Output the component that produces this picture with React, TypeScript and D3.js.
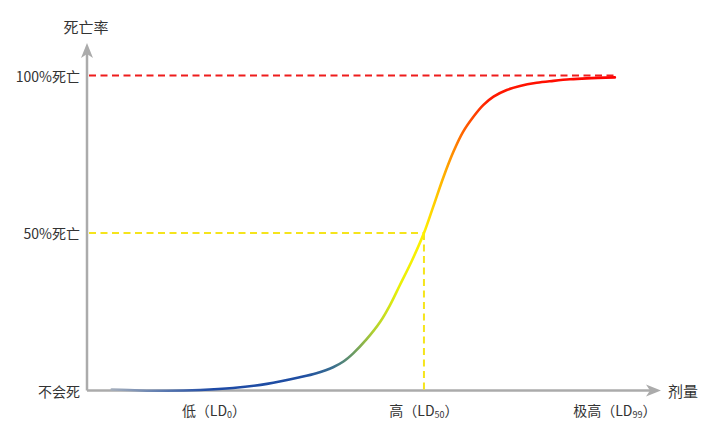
import React from "react";
import * as d3 from "d3";

const doses = [4.3, 9.2, 13.9, 19.7, 25.4, 31.3, 37.0, 39.9, 42.8, 44.6, 46.3, 48.6, 51.0, 52.7, 54.4, 56.5, 58.6, 60.2, 62.0, 63.7, 65.4, 67.2, 68.9, 70.7, 73.0, 75.3, 78.2, 81.1, 84.0, 86.9, 91.8];
const mortality = [0.3, 0.0, -0.1, 0.15, 0.8, 2.1, 4.2, 5.5, 7.4, 9.2, 11.8, 16.2, 21.8, 27.1, 33.4, 41.2, 50, 58.3, 67.8, 75.7, 82.1, 86.9, 90.6, 93.3, 95.4, 96.7, 97.7, 98.3, 98.8, 99.1, 99.4];

const yTickValues = [0, 50, 100];
const yTickLabels = ["不会死", "50%死亡", "100%死亡"];
const xTickValues = [20, 58.6, 91.8];
const xTickMain = ["低（LD", "高（LD", "极高（LD"];
const xTickSub = ["0", "50", "99"];
const ld50 = 58.6;
const refEnd = 92;

const gradStops = [
  { o: 0.0, c: "#a3adbb" },
  { o: 0.1, c: "#5d7bb0" },
  { o: 0.2, c: "#1e4aa6" },
  { o: 0.38, c: "#1f4ea2" },
  { o: 0.44, c: "#3a6f8f" },
  { o: 0.48, c: "#6a9a62" },
  { o: 0.52, c: "#b0d030" },
  { o: 0.57, c: "#e8f008" },
  { o: 0.62, c: "#fff000" },
  { o: 0.66, c: "#ffb000" },
  { o: 0.7, c: "#ff6000" },
  { o: 0.75, c: "#ff1a00" },
  { o: 1.0, c: "#ff0000" },
];

export default function App() {
  const W = 720, H = 442;
  const x = d3.scaleLinear().domain([0, 100]).range([87, 662]);
  const y = d3.scaleLinear().domain([0, 100]).range([390.5, 75.5]);
  const pts: [number, number][] = doses.map((d, i) => [d, mortality[i]]);
  const line = d3
    .line<[number, number]>()
    .x((d) => x(d[0]))
    .y((d) => y(d[1]))
    .curve(d3.curveCatmullRom.alpha(0.5));
  const font = "'Noto Sans CJK SC', 'Noto Sans', sans-serif";
  const axisColor = "#ababab";
  const textColor = "#333";
  const x0 = x(0), yb = y(0);
  const gx0 = x(doses[0]), gx1 = x(doses[doses.length - 1]);
  return (
    <svg width={W} height={H} style={{ position: "absolute", left: 0, top: 0, background: "#fff" }} fontFamily={font}>
      <defs>
        <linearGradient id="curveGrad" gradientUnits="userSpaceOnUse" x1={gx0} y1={0} x2={gx1} y2={0}>
          {gradStops.map((s, i) => (
            <stop key={i} offset={s.o} stopColor={s.c} />
          ))}
        </linearGradient>
      </defs>
      {/* axes */}
      <line x1={x0} y1={yb} x2={x0} y2={52} stroke={axisColor} strokeWidth={2.5} />
      <path d={`M${x0},43 L${x0 - 6},58 L${x0},54 L${x0 + 6},58 Z`} fill={axisColor} />
      <line x1={x0} y1={yb} x2={652} y2={yb} stroke={axisColor} strokeWidth={2.5} />
      <path d={`M661,${yb} L646,${yb - 6} L650,${yb} L646,${yb + 6} Z`} fill={axisColor} />
      {/* reference dashed lines */}
      <line x1={x0 + 2} y1={y(100)} x2={x(refEnd)} y2={y(100)} stroke="#ee1c1c" strokeWidth={2} strokeDasharray="7,4.5" />
      <line x1={x0 + 2} y1={y(50)} x2={x(ld50)} y2={y(50)} stroke="#f5e41c" strokeWidth={2} strokeDasharray="7,4.5" />
      <line x1={x(ld50)} y1={y(50)} x2={x(ld50)} y2={yb - 1} stroke="#f5e41c" strokeWidth={2} strokeDasharray="7,4.5" />
      {/* curve */}
      <path d={line(pts) || ""} fill="none" stroke="url(#curveGrad)" strokeWidth={2.6} strokeLinecap="round" />
      {/* labels */}
      <text x={86} y={26} textAnchor="middle" dominantBaseline="central" fontSize={15} fill={textColor}>死亡率</text>
      {yTickValues.map((v, i) => (
        <text key={i} x={80} y={y(v)} textAnchor="end" dominantBaseline="central" fontSize={14} fill={textColor}>
          {yTickLabels[i]}
        </text>
      ))}
      <text x={668} y={yb} dominantBaseline="central" fontSize={15} fill={textColor}>剂量</text>
      {xTickValues.map((v, i) => (
        <text key={i} x={x(v) + (i === 0 ? 12 : 0)} y={410} textAnchor="middle" dominantBaseline="central" fontSize={14} fill={textColor}>
          {xTickMain[i]}
          <tspan fontSize={9} dy={4}>{xTickSub[i]}</tspan>
          <tspan dy={-4}>）</tspan>
        </text>
      ))}
    </svg>
  );
}
